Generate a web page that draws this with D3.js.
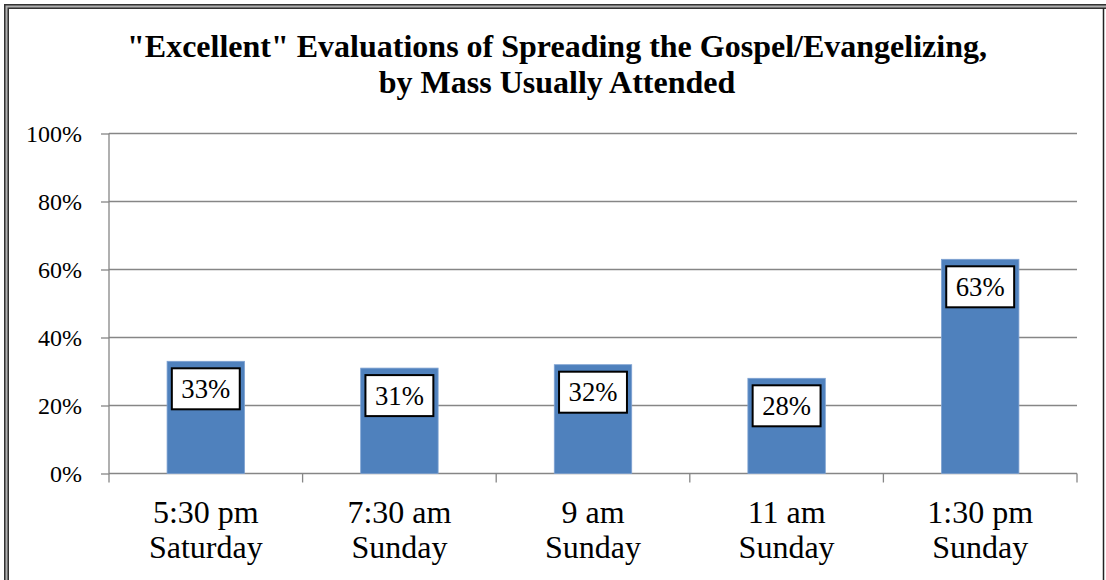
<!DOCTYPE html>
<html>
<head>
<meta charset="utf-8">
<script src="https://cdn.jsdelivr.net/npm/d3@7"></script>
<style>
  body { margin: 0; background: #fff; }
  svg { display: block; }
  svg text { font-family: "Liberation Serif", "Times New Roman", serif; fill: #000; }
  .axis text { font-size: 24px; }
  .axis path, .axis line { stroke: #868686; stroke-width: 1.3; }
  .grid line { stroke: #868686; stroke-width: 1.3; }
  .title { font-size: 32px; font-weight: bold; }
  .cat { font-size: 32px; }
  .lbl { font-size: 26.7px; }
</style>
</head>
<body>
<div id="chart"></div>
<script>
const width = 1106;
const height = 580;

// data
const categories = ["5:30 pm|Saturday", "7:30 am|Sunday", "9 am|Sunday", "11 am|Sunday", "1:30 pm|Sunday"];
const values = [33, 31, 32, 28, 63];
const yTicks = [0, 20, 40, 60, 80, 100];
const titleLines = ["\"Excellent\" Evaluations of Spreading the Gospel/Evangelizing,", "by Mass Usually Attended"];

const plot = { left: 109, right: 1077, top: 133.5, bottom: 473.5 };

const svg = d3.select("#chart").append("svg")
    .attr("width", width)
    .attr("height", height);

// page frame: double line left/top, single line on the right
svg.append("rect")
    .attr("x", 6.5).attr("y", 6.5)
    .attr("width", width + 20).attr("height", height + 20)
    .attr("fill", "none")
    .attr("stroke", "#333")
    .attr("stroke-width", 5);
svg.append("rect")
    .attr("x", 6.5).attr("y", 6.5)
    .attr("width", width + 20).attr("height", height + 20)
    .attr("fill", "none")
    .attr("stroke", "#b0b0b0")
    .attr("stroke-width", 2);
svg.append("line")
    .attr("x1", 1103.5).attr("x2", 1103.5)
    .attr("y1", 8).attr("y2", height)
    .attr("stroke", "#222")
    .attr("stroke-width", 1.5);

// title
svg.append("text")
    .attr("class", "title")
    .attr("text-anchor", "middle")
    .selectAll("tspan")
    .data(titleLines)
    .enter()
    .append("tspan")
    .attr("x", 557)
    .attr("y", function(d, i) { return 57 + i * 36; })
    .text(function(d) { return d; });

const xScale = d3.scaleBand()
    .domain(categories)
    .range([plot.left, plot.right]);

const yScale = d3.scaleLinear()
    .domain([0, 100])
    .range([plot.bottom, plot.top]);

// gridlines
svg.append("g")
    .attr("class", "grid")
    .selectAll("line")
    .data(yTicks.slice(1))
    .enter()
    .append("line")
    .attr("x1", plot.left).attr("x2", plot.right)
    .attr("y1", function(d) { return yScale(d); })
    .attr("y2", function(d) { return yScale(d); });

// y axis
const yaxis = d3.axisLeft(yScale)
    .tickValues(yTicks)
    .tickSize(8)
    .tickPadding(19)
    .tickFormat(function(d) { return d + "%"; });

const yg = svg.append("g")
    .attr("class", "axis")
    .attr("transform", "translate(" + plot.left + ",0)")
    .call(yaxis);
yg.select(".domain").attr("d", "M0," + plot.top + "V" + plot.bottom);
yg.selectAll(".tick text").attr("dy", "0.34em");

// x axis baseline and ticks at band boundaries
const xg = svg.append("g")
    .attr("class", "axis")
    .attr("transform", "translate(0," + plot.bottom + ")");
xg.append("line")
    .attr("x1", plot.left).attr("x2", plot.right)
    .attr("y1", 0).attr("y2", 0);
const bounds = categories.map(function(c) { return xScale(c); }).concat([plot.right]);
xg.selectAll(".xtick")
    .data(bounds)
    .enter()
    .append("line")
    .attr("class", "xtick")
    .attr("x1", function(d) { return d; })
    .attr("x2", function(d) { return d; })
    .attr("y1", 0).attr("y2", 9);

// category labels
const cats = svg.append("g")
    .selectAll("text")
    .data(categories)
    .enter()
    .append("text")
    .attr("class", "cat")
    .attr("text-anchor", "middle");
cats.selectAll("tspan")
    .data(function(d) {
        const cx = xScale(d) + xScale.bandwidth() / 2;
        return d.split("|").map(function(t) { return { t: t, cx: cx }; });
    })
    .enter()
    .append("tspan")
    .attr("x", function(d) { return d.cx; })
    .attr("y", function(d, i) { return 523 + i * 35; })
    .text(function(d) { return d.t; });

// bars
const barW = xScale.bandwidth() * 0.4;
const bars = svg.append("g")
    .selectAll("g")
    .data(values)
    .enter()
    .append("g");

bars.append("rect")
    .attr("x", function(d, i) { return xScale(categories[i]) + (xScale.bandwidth() - barW) / 2; })
    .attr("y", function(d) { return yScale(d); })
    .attr("width", barW)
    .attr("height", function(d) { return plot.bottom - yScale(d); })
    .attr("fill", "#4F81BD")
    .attr("stroke", "#7ea2d2")
    .attr("stroke-width", 0.8);

// value labels in boxes
bars.each(function(d, i) {
    const g = d3.select(this);
    const cx = xScale(categories[i]) + xScale.bandwidth() / 2;
    const top = yScale(d) + 7;
    const txt = g.append("text")
        .attr("class", "lbl")
        .attr("text-anchor", "middle")
        .attr("x", cx)
        .attr("y", top + 29.5)
        .text(d + "%");
    const w = txt.node().getComputedTextLength() + 19;
    g.insert("rect", "text")
        .attr("x", cx - w / 2)
        .attr("y", top)
        .attr("width", w)
        .attr("height", 41)
        .attr("fill", "#fff")
        .attr("stroke", "#000")
        .attr("stroke-width", 2);
});
</script>
</body>
</html>
